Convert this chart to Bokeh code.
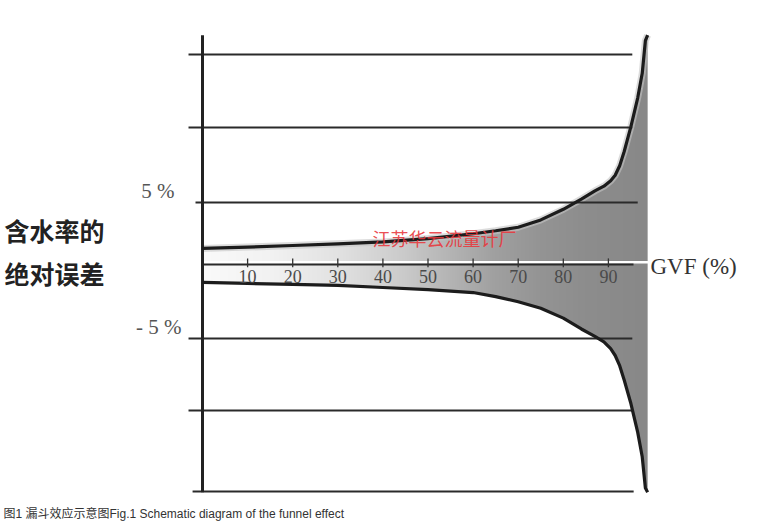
import numpy as np
from bokeh.plotting import figure
from bokeh.models import Range1d
from bokeh.core.properties import value
from bokeh.embed import file_html
from bokeh.resources import INLINE

# ---------------- data ----------------
gvf = [0, 10, 20, 30, 40, 50, 60, 65, 70, 75, 80, 84, 87, 89, 90.5, 91.5, 92.5, 93.5, 95, 96.5,
       97.5, 98.2, 98.7]
upper = [1.62, 1.72, 1.84, 1.96, 2.10, 2.35, 2.70, 2.92, 3.18, 3.72, 4.50, 5.25, 5.85, 6.20,
         6.60, 7.00, 7.70, 8.75, 10.6, 12.7, 14.5, 16.9, 17.3]
lower = [-0.88, -0.95, -1.02, -1.10, -1.25, -1.40, -1.62, -1.92, -2.30, -2.78, -3.50, -4.30,
         -4.85, -5.25, -5.75, -6.25, -7.00, -8.05, -9.8, -11.9, -13.7, -16.0, -16.3]

grid_levels = [15.88, 10.51, 5.0, -5.0, -10.29, -16.25]
grid_start = [-3.1, -3.1, -1.55, -3.1, -3.1, -2.2]
grid_end = [95.3, 95.3, 96.5, 95.3, 95.3, 95.6]

tick_values = [10, 20, 30, 40, 50, 60, 70, 80, 90]
tick_labels = ["10", "20", "30", "40", "50", "60", "70", "80", "90"]
y_label_values = [5.0, -5.0]
y_labels = ["5 %", "- 5 %"]

axis_level = 0.44
x_title = "GVF  (%)"
y_title = ["含水率的", "绝对误差"]
watermark = "江苏华云流量计厂"
caption = "图1 漏斗效应示意图Fig.1 Schematic diagram of the funnel effect"

# ---------------- layout ----------------
W, H = 761, 530
X0_PX, X_SCALE = 202.0, 4.51
Y0_PX, Y_SCALE = 270.0, 13.6


def gx(px):
    return (px - X0_PX) / X_SCALE


def gy(py):
    return (Y0_PX - py) / Y_SCALE


p = figure(width=W, height=H, x_range=Range1d(gx(0), gx(W)),
           y_range=Range1d(gy(H), gy(0)), output_backend="svg",
           toolbar_location=None, min_border=0)
p.axis.visible = False
p.grid.visible = False
p.outline_line_color = None
p.background_fill_color = "white"
p.border_fill_color = "white"

# gradient fill of the funnel (style only)
N = 400
xs = np.linspace(0, gvf[-1], N)
stop_x = [0, 15, 30, 45, 55, 65, 75, 85, 99]
stop_g = [250, 242, 226, 202, 180, 160, 148, 141, 136]
g = np.interp(xs, stop_x, stop_g).astype(np.uint8)
img = np.empty((1, N), dtype=np.uint32)
view = img.view(dtype=np.uint8).reshape((1, N, 4))
view[0, :, 0] = g
view[0, :, 1] = g
view[0, :, 2] = g
view[0, :, 3] = 255
p.image_rgba(image=[img], x=0, y=min(lower), dw=gvf[-1], dh=max(upper) - min(lower))

# white masks outside the funnel
top = gy(-10)
bottom = gy(H + 10)
p.patch([gvf[0]] + gvf + [gvf[-1]], [top] + upper + [top],
        fill_color="white", line_color="white", line_width=1)
p.patch([gvf[0]] + gvf + [gvf[-1]], [bottom] + lower + [bottom],
        fill_color="white", line_color="white", line_width=1)

# soft light band just inside the upper curve (3-D look)
p.line(gvf, upper, line_color="#c4c4c4", line_width=7, line_alpha=0.6, line_join="round")

# horizontal lines
p.segment(x0=grid_start, y0=grid_levels, x1=grid_end, y1=grid_levels,
          line_color="#2a2a2a", line_width=2)

# GVF axis: white highlight + black line + ticks
p.segment(x0=[0], y0=[axis_level + 0.17], x1=[gx(651)], y1=[axis_level + 0.17],
          line_color="white", line_width=2.5)
p.segment(x0=[0], y0=[axis_level], x1=[gx(633)], y1=[axis_level],
          line_color="#2a2a2a", line_width=2)
p.segment(x0=tick_values, y0=[axis_level + 0.45] * len(tick_values),
          x1=tick_values, y1=[axis_level - 0.2] * len(tick_values),
          line_color="#333333", line_width=1.3)

# vertical axis
p.segment(x0=[0], y0=[grid_levels[-1] - 0.05], x1=[0], y1=[max(upper)],
          line_color="#222222", line_width=3)

# funnel curves
p.line(gvf, upper, line_color="#1c1c1c", line_width=3.2, line_join="round")
p.line(gvf, lower, line_color="#1c1c1c", line_width=3.2, line_join="round")

# tick labels
p.text(x=tick_values, y=[gy(276)] * len(tick_values), text=tick_labels,
       text_align="center", text_baseline="middle",
       text_font=value("Liberation Serif"), text_font_size="18px",
       text_color="#4a4a4a")

# y labels
p.text(x=[gx(174), gx(181)], y=y_label_values, text=y_labels,
       text_align="right", text_baseline="middle", y_offset=-12,
       text_font=value("Liberation Serif"), text_font_size="21px",
       text_color="#555555")

# axis title
p.text(x=[gx(650)], y=[gy(266)], text=[x_title], text_align="left",
       text_baseline="middle", text_font=value("Liberation Serif"),
       text_font_size="23px", text_color="#333333")

p.text(x=[gx(4), gx(4)], y=[gy(229), gy(272)], text=y_title,
       text_align="left", text_baseline="middle",
       text_font=value("Noto Sans CJK SC"), text_font_size="25px",
       text_font_style="bold", text_color="#222222")

# watermark
p.text(x=[gx(372)], y=[gy(237)], text=[watermark], text_align="left",
       text_baseline="middle", text_font=value("Noto Sans CJK SC"),
       text_font_size="18px", text_color="#e8383d", text_alpha=0.9)

# caption
p.text(x=[gx(3)], y=[gy(513)], text=[caption], text_align="left",
       text_baseline="middle", text_font=value("Liberation Sans, Noto Sans CJK SC"),
       text_font_size="12px", text_color="#333333")

open("out.html", "w").write(file_html(p, INLINE))
